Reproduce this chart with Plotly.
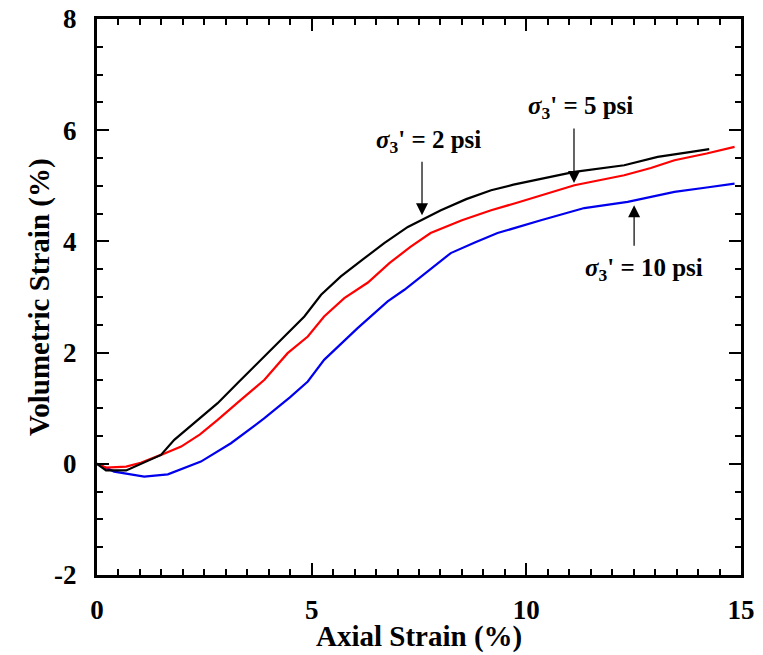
import plotly.graph_objects as go

# Axial strain (%) vs volumetric strain (%) for three confining pressures
x_2psi = [0, 0.21, 0.68, 1.49, 1.8, 2.3, 2.81, 3.3, 3.9, 4.4, 4.83, 5.22, 5.68, 6.2, 6.69,
          7.24, 8.01, 8.6, 9.18, 9.7, 10.19, 11.12, 12.28, 13.06, 13.84, 14.26]
y_2psi = [0, -0.12, -0.12, 0.16, 0.43, 0.76, 1.09, 1.47, 1.93, 2.32, 2.65, 3.04, 3.37, 3.68, 3.97,
          4.26, 4.56, 4.76, 4.92, 5.02, 5.10, 5.25, 5.37, 5.52, 5.61, 5.66]

x_5psi = [0, 0.21, 0.68, 1.02, 1.49, 1.96, 2.4, 2.81, 3.35, 3.9, 4.44, 4.91, 5.29, 5.76, 6.31,
          6.81, 7.3, 7.77, 8.5, 9.18, 9.8, 10.34, 11.12, 11.7, 12.28, 12.9, 13.45, 14.2, 14.85]
y_5psi = [0, -0.07, -0.05, 0.02, 0.16, 0.31, 0.53, 0.79, 1.15, 1.51, 1.99, 2.29, 2.65, 2.98, 3.26,
          3.61, 3.9, 4.15, 4.38, 4.56, 4.7, 4.83, 5.01, 5.1, 5.19, 5.32, 5.46, 5.58, 5.70]

x_10psi = [0, 0.4, 1.1, 1.65, 2.42, 3.12, 3.9, 4.5, 4.91, 5.29, 6.07, 6.77, 7.16, 7.7, 8.24,
           8.8, 9.33, 10.34, 11.35, 12.36, 13.45, 14.2, 14.85]
y_10psi = [0, -0.14, -0.23, -0.19, 0.04, 0.37, 0.82, 1.2, 1.48, 1.87, 2.44, 2.92, 3.13, 3.46, 3.79,
           3.98, 4.15, 4.38, 4.60, 4.71, 4.89, 4.97, 5.04]

labels = ["2 psi", "5 psi", "10 psi"]

x_tickvals = [0, 5, 10, 15]
x_ticktext = ["0", "5", "10", "15"]
y_tickvals = [-2, 0, 2, 4, 6, 8]
y_ticktext = ["-2", "0", "2", "4", "6", "8"]

FONT = "Liberation Serif, Times New Roman, serif"

fig = go.Figure()
fig.add_trace(go.Scatter(x=x_10psi, y=y_10psi, mode="lines", line=dict(color="#0000ee", width=2.2), name=labels[2]))
fig.add_trace(go.Scatter(x=x_5psi, y=y_5psi, mode="lines", line=dict(color="#ff0000", width=2.2), name=labels[1]))
fig.add_trace(go.Scatter(x=x_2psi, y=y_2psi, mode="lines", line=dict(color="#000000", width=2.2), name=labels[0]))

def sig(lbl):
    return "<b><i>σ</i><sub>3</sub>' = " + lbl + "</b>"

ann_font = dict(family=FONT, size=25, color="black")
# text labels
fig.add_annotation(x=7.71, y=5.79, text=sig(labels[0]), showarrow=False, font=ann_font)
fig.add_annotation(x=11.27, y=6.40, text=sig(labels[1]), showarrow=False, font=ann_font)
fig.add_annotation(x=12.74, y=3.49, text=sig(labels[2]), showarrow=False, font=ann_font)
# arrows
arrow = dict(showarrow=True, arrowhead=2, arrowsize=2.0, arrowwidth=1.2, arrowcolor="black", text="", ax=0)
fig.add_annotation(x=7.57, y=4.47, ay=-55, **arrow)
fig.add_annotation(x=11.11, y=5.05, ay=-56, **arrow)
fig.add_annotation(x=12.51, y=4.65, ay=42, **arrow)

# axis titles (as annotations so they sit fully inside the page)
fig.add_annotation(x=0.5, y=-0.111, xref="paper", yref="paper", yanchor="middle",
                   text="<b>Axial Strain (%)</b>", showarrow=False,
                   font=dict(family=FONT, size=29, color="black"))
fig.add_annotation(x=-0.09, y=0.5, xref="paper", yref="paper", xanchor="center", yanchor="middle",
                   text="<b>Volumetric Strain (%)</b>", showarrow=False, textangle=-90,
                   font=dict(family=FONT, size=29, color="black"))

axis_common = dict(
    showline=True, linewidth=3, linecolor="black", mirror="allticks",
    ticks="inside", ticklen=12, tickwidth=2, tickcolor="black",
    showgrid=False, zeroline=False, automargin=False,
    tickmode="array", ticklabeloverflow="allow",
    tickfont=dict(family=FONT, size=27, color="black", weight="bold"),
)

fig.update_xaxes(
    range=[0, 15], tickvals=x_tickvals, ticktext=x_ticktext,
    minor=dict(dtick=0.5, tick0=0, ticks="inside", ticklen=6, tickwidth=2, tickcolor="black", showgrid=False),
    ticklabelstandoff=9,
    **axis_common,
)
fig.update_yaxes(
    range=[-2, 8], tickvals=y_tickvals, ticktext=y_ticktext,
    minor=dict(dtick=0.5, tick0=0, ticks="inside", ticklen=6, tickwidth=2, tickcolor="black", showgrid=False),
    ticklabelstandoff=12,
    **axis_common,
)

fig.update_layout(
    width=763, height=655,
    margin=dict(l=89, r=30, t=11, b=88, autoexpand=False),
    plot_bgcolor="white", paper_bgcolor="white",
    showlegend=False,
)

fig.write_html("out.html")
